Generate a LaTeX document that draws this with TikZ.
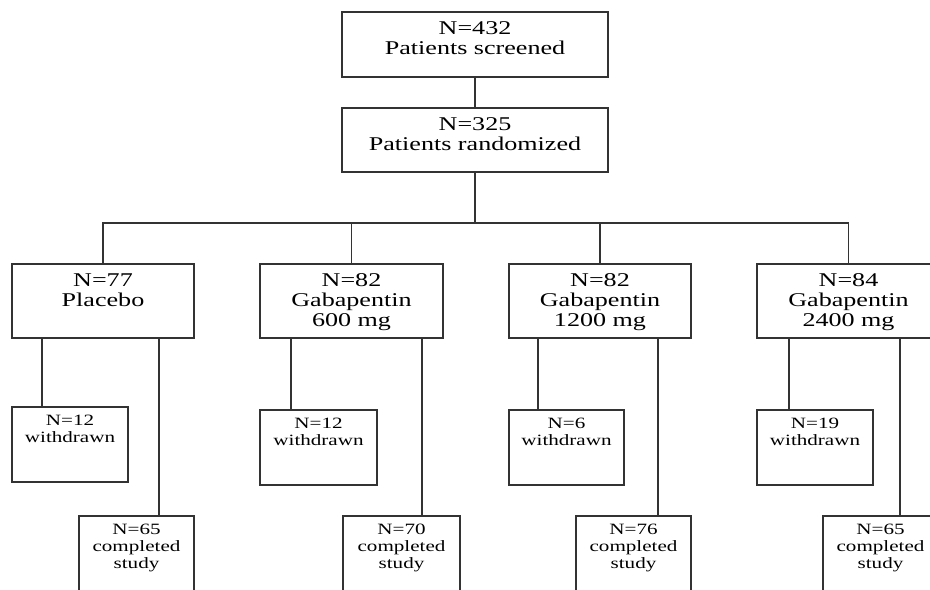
\documentclass[tikz,border=0pt]{standalone}
\usepackage{fontspec}
\setmainfont{Liberation Serif}[FakeStretch=1.34]
\usetikzlibrary{fit,calc}

\tikzset{
  box/.style={draw=black!80, line width=1.3pt, inner sep=0pt},
  bigtxt/.style={anchor=north, align=center, inner sep=0pt, yshift=-7.5pt,
    font=\fontsize{14.6}{15}\selectfont},
  smalltxt/.style={anchor=north, align=center, inner sep=0pt, yshift=-6.5pt,
    font=\fontsize{11.8}{12.8}\selectfont},
  link/.style={draw=black!80, line width=1.3pt}
}

\begin{document}
\begin{tikzpicture}[x=0.75pt,y=-0.75pt]
  \useasboundingbox (0,0) rectangle (930,589);
  \clip (0,0) rectangle (930,589);

  % screening
  \node[box, fit={(342,12) (608,77)},
    label={[bigtxt]north:N=432\\Patients screened}] (scr) {};
  \node[box, fit={(342,108) (608,172)},
    label={[bigtxt]north:N=325\\Patients randomized}] (rnd) {};

  % arms
  \node[box, fit={(12,264) (194,338)},
    label={[bigtxt]north:N=77\\Placebo}] (pla) {};
  \node[box, fit={(260,264) (443,338)},
    label={[bigtxt]north:N=82\\Gabapentin\\600 mg}] (g600) {};
  \node[box, fit={(509,264) (691,338)},
    label={[bigtxt]north:N=82\\Gabapentin\\1200 mg}] (g1200) {};
  \node[box, fit={(757,264) (940,338)},
    label={[bigtxt]north:N=84\\Gabapentin\\2400 mg}] (g2400) {};

  % withdrawn
  \node[box, fit={(12,407) (128,482)},
    label={[smalltxt]north:N=12\\withdrawn}] (pla-w) {};
  \node[box, fit={(260,410) (377,485)},
    label={[smalltxt]north:N=12\\withdrawn}] (g600-w) {};
  \node[box, fit={(509,410) (624,485)},
    label={[smalltxt]north:N=6\\withdrawn}] (g1200-w) {};
  \node[box, fit={(757,410) (873,485)},
    label={[smalltxt]north:N=19\\withdrawn}] (g2400-w) {};

  % completed
  \node[box, fit={(79,516) (194,592)},
    label={[smalltxt]north:N=65\\completed\\study}] (pla-c) {};
  \node[box, fit={(343,516) (460,592)},
    label={[smalltxt]north:N=70\\completed\\study}] (g600-c) {};
  \node[box, fit={(576,516) (691,592)},
    label={[smalltxt]north:N=76\\completed\\study}] (g1200-c) {};
  \node[box, fit={(823,516) (938,592)},
    label={[smalltxt]north:N=65\\completed\\study}] (g2400-c) {};

  % links
  \draw[link] (scr) -- (rnd);
  \coordinate (hub) at ($(rnd.south)+(0,50)$);
  \draw[link] (rnd) -- (hub);
  \draw[link] (pla.north) |- (hub) -| (g2400.north);
  \draw[link] (g600.north) -- (g600.north |- hub);
  \draw[link] (g1200.north) -- (g1200.north |- hub);

  \foreach \arm/\wx/\cx in {pla/31/81, g600/32/80, g1200/30/83, g2400/33/78} {
    \draw[link] ($(\arm-w.north west)+(\wx,0)$) -- ($(\arm-w.north west |- \arm.south)+(\wx,0)$);
    \draw[link] ($(\arm-c.north west)+(\cx,0)$) -- ($(\arm-c.north west |- \arm.south)+(\cx,0)$);
  }
\end{tikzpicture}
\end{document}
